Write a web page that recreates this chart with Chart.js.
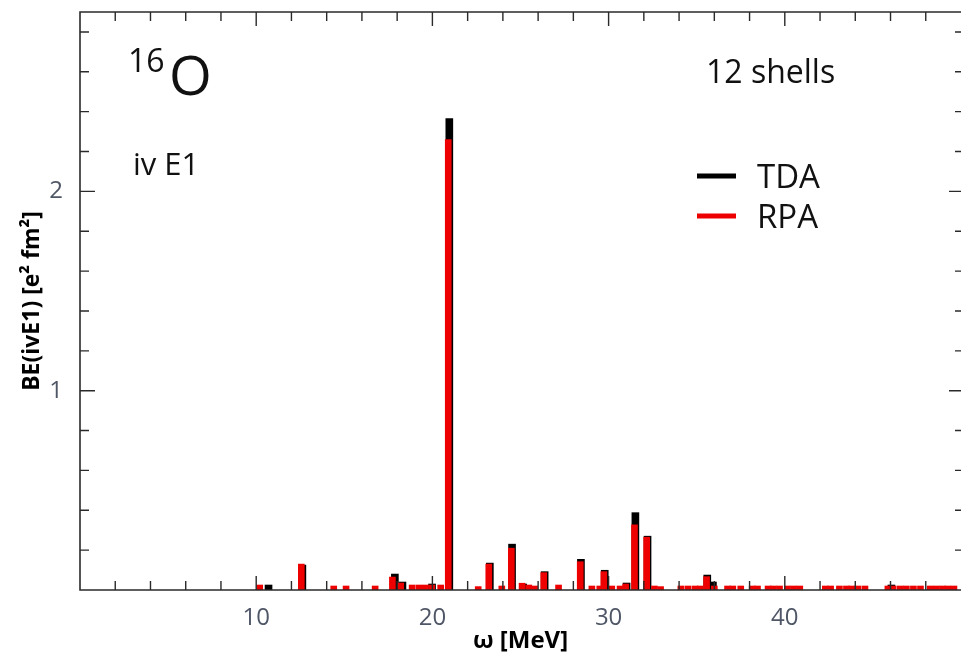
<!DOCTYPE html>
<html>
<head>
<meta charset="utf-8">
<script src="https://cdn.jsdelivr.net/npm/chart.js@4.4.1/dist/chart.umd.min.js"></script>
<style>
  html, body { margin: 0; padding: 0; background: #fff; }
  #wrap { width: 961px; height: 657px; }
</style>
</head>
<body>
<div id="wrap"><canvas id="spectrum" width="961" height="657"></canvas></div>
<script>
// RPA transitions: energy (MeV) and B(E1) strength (e^2 fm^2)
const rpaEnergy = [
  10.2, 12.56, 14.4, 15.1, 16.75, 17.73, 18.2, 18.85, 19.24, 19.6,
  19.96, 20.47, 20.9, 22.6, 23.2, 23.94, 24.48, 25.09, 25.47, 25.8,
  26.32, 27.16, 28.39, 29.05, 29.5, 29.73, 30.18, 30.65, 30.97, 31.47,
  32.16, 32.6, 32.95, 34.1, 34.5, 34.9, 35.2, 35.56, 36.0, 36.75,
  37.05, 37.5, 38.15, 38.45, 39.05, 39.35, 39.7, 40.15, 40.5, 40.85,
  42.3, 42.6, 43.1, 43.5, 43.8, 44.15, 44.55, 45.85, 46.15, 46.55,
  46.9, 47.3, 47.7, 48.25, 48.6, 48.95, 49.25, 49.6
];
const rpaStrength = [
  0.025, 0.13, 0.02, 0.02, 0.02, 0.065, 0.035, 0.025, 0.025, 0.025,
  0.025, 0.025, 2.26, 0.017, 0.13, 0.02, 0.21, 0.034, 0.025, 0.02,
  0.087, 0.025, 0.142, 0.02, 0.02, 0.092, 0.02, 0.02, 0.03, 0.327,
  0.265, 0.02, 0.017, 0.02, 0.02, 0.02, 0.02, 0.067, 0.02, 0.02,
  0.02, 0.02, 0.02, 0.02, 0.02, 0.02, 0.02, 0.02, 0.02, 0.02,
  0.02, 0.02, 0.02, 0.02, 0.02, 0.02, 0.02, 0.02, 0.02, 0.02,
  0.02, 0.02, 0.02, 0.02, 0.02, 0.02, 0.02, 0.02
];

// TDA transitions
const tdaEnergy = [
  10.7, 12.62, 17.87, 18.3, 19.98, 20.96, 23.26, 24.52, 25.15,
  26.37, 28.43, 29.78, 31.02, 31.52, 32.21, 35.6, 35.92, 46.05
];
const tdaStrength = [
  0.025, 0.125, 0.08, 0.04, 0.03, 2.365, 0.135, 0.23, 0.03,
  0.092, 0.154, 0.099, 0.035, 0.388, 0.27, 0.075, 0.04, 0.025
];

const xTickLabels = [10, 20, 30, 40];
const yTickLabels = [1, 2];

const FONT = '"Open Sans", "Noto Sans", sans-serif';
Chart.defaults.font.family = FONT;

const toPoints = (xs, ys) => xs.map((e, i) => ({ x: e, y: ys[i] }));

// drop the extra room Chart.js keeps for edge tick labels
const noEdgePadding = s => {
  s.paddingLeft = 0;
  s.paddingRight = 0;
  s.paddingTop = 0;
  s.paddingBottom = 0;
};

// axes lines with inward minor/major ticks on all four sides
const frameAndTicks = {
  id: 'frameAndTicks',
  afterDatasetsDraw(chart) {
    const { ctx, chartArea: a, scales: { x, y } } = chart;
    ctx.save();
    ctx.strokeStyle = '#2a2a2a';
    ctx.lineWidth = 1.6;
    ctx.beginPath();
    ctx.moveTo(a.right + 4, a.top);
    ctx.lineTo(a.left, a.top);
    ctx.lineTo(a.left, a.bottom);
    ctx.lineTo(a.right + 4, a.bottom);
    ctx.stroke();

    ctx.lineWidth = 1.4;
    ctx.beginPath();
    for (let v = 2; v < 50; v += 2) {
      const px = x.getPixelForValue(v);
      const len = v % 10 === 0 ? 14 : 9;
      ctx.moveTo(px, a.bottom);
      ctx.lineTo(px, a.bottom - len);
      ctx.moveTo(px, a.top);
      ctx.lineTo(px, a.top + len);
    }
    for (let k = 1; k <= 14; k++) {
      const v = k * 0.2;
      const py = y.getPixelForValue(v);
      const len = k % 5 === 0 ? 15 : 9;
      ctx.moveTo(a.left, py);
      ctx.lineTo(a.left + len, py);
      ctx.moveTo(a.right + 3, py);
      ctx.lineTo(a.right + 3 - len, py);
    }
    ctx.stroke();
    ctx.restore();
  }
};

// nucleus, multipole, model space and the legend
const labels = {
  id: 'labels',
  afterDraw(chart) {
    const { ctx } = chart;
    ctx.save();
    ctx.fillStyle = '#111';
    ctx.textBaseline = 'alphabetic';
    ctx.textAlign = 'left';

    ctx.font = '32px ' + FONT;
    ctx.fillText('16', 128, 72);
    ctx.font = '55px ' + FONT;
    ctx.fillText('O', 169, 95);

    ctx.font = '31px ' + FONT;
    ctx.fillText('iv E1', 133, 175);

    ctx.font = '32px ' + FONT;
    ctx.fillText('12 shells', 706, 83);

    const items = [
      { text: 'TDA', color: '#000', y: 176 },
      { text: 'RPA', color: '#ee0000', y: 216 }
    ];
    items.forEach(it => {
      ctx.strokeStyle = it.color;
      ctx.lineWidth = 5;
      ctx.beginPath();
      ctx.moveTo(697, it.y);
      ctx.lineTo(736, it.y);
      ctx.stroke();
      ctx.fillStyle = '#111';
      ctx.font = '33px ' + FONT;
      ctx.fillText(it.text, 757, it.y + 12);
    });
    ctx.restore();
  }
};

const ctx = document.getElementById('spectrum').getContext('2d');
new Chart(ctx, {
  type: 'bar',
  data: {
    datasets: [
      {
        label: 'TDA',
        data: toPoints(tdaEnergy, tdaStrength),
        backgroundColor: '#000',
        barThickness: 7,
        grouped: false,
        order: 2
      },
      {
        label: 'RPA',
        data: toPoints(rpaEnergy, rpaStrength),
        backgroundColor: '#ee0000',
        barThickness: 6,
        grouped: false,
        order: 1
      }
    ]
  },
  options: {
    responsive: false,
    animation: false,
    layout: { padding: { top: 12, right: 0, left: 0, bottom: 0 } },
    plugins: {
      legend: { display: false },
      tooltip: { enabled: false }
    },
    scales: {
      x: {
        type: 'linear',
        min: 0,
        max: 50,
        offset: false,
        grid: { display: false, drawTicks: false },
        border: { display: false },
        ticks: {
          stepSize: 10,
          autoSkip: false,
          maxRotation: 0,
          padding: 14,
          color: '#4f5666',
          font: { size: 24 },
          callback: v => xTickLabels.includes(v) ? String(v) : ''
        },
        title: {
          display: true,
          text: 'ω [MeV]',
          color: '#000',
          font: { size: 24, weight: 'bold' },
          padding: { top: 0, bottom: 1 }
        },
        afterFit: s => { s.height = 67; noEdgePadding(s); }
      },
      y: {
        min: 0,
        max: 2.9,
        grid: { display: false, drawTicks: false },
        border: { display: false },
        ticks: {
          stepSize: 1,
          padding: 17,
          color: '#4f5666',
          font: { size: 24 },
          callback: v => yTickLabels.includes(v) ? String(v) : ''
        },
        title: {
          display: true,
          text: 'BE(ivE1) [e² fm²]',
          color: '#000',
          font: { size: 23, weight: 'bold' },
          padding: { top: 19, bottom: 0 }
        },
        afterFit: s => { s.width = 80; noEdgePadding(s); }
      }
    }
  },
  plugins: [frameAndTicks, labels]
});
</script>
</body>
</html>
